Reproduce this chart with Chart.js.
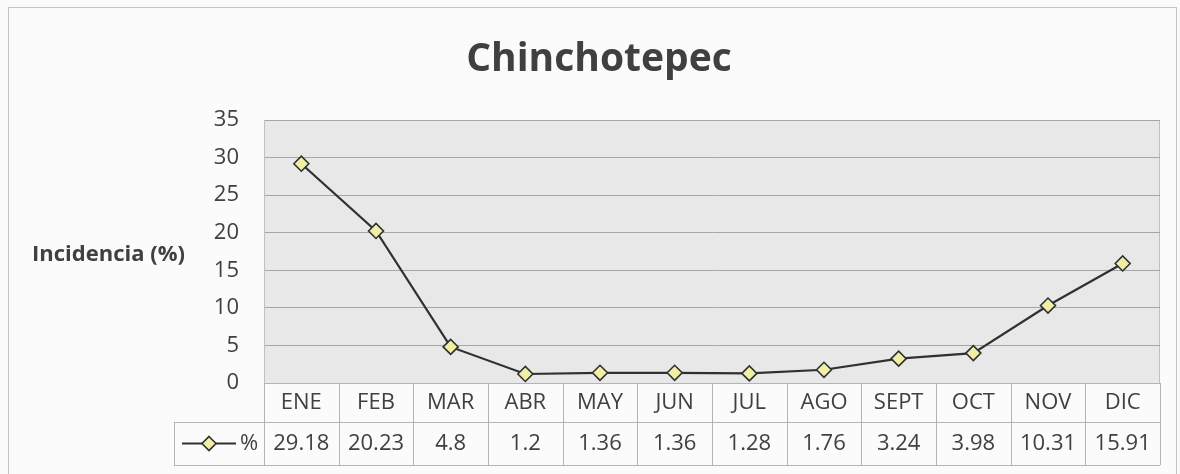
<!DOCTYPE html>
<html>
<head>
<meta charset="utf-8">
<title>Chinchotepec</title>
<script src="https://cdn.jsdelivr.net/npm/chart.js@4.4.1/dist/chart.umd.min.js"></script>
<style>
  html, body { margin: 0; padding: 0; background: #fbfbfb; }
  canvas { display: block; }
</style>
</head>
<body>
<canvas id="myChart" width="1180" height="474"></canvas>
<script>
const months = ["ENE", "FEB", "MAR", "ABR", "MAY", "JUN", "JUL", "AGO", "SEPT", "OCT", "NOV", "DIC"];
const incidencia = [29.18, 20.23, 4.8, 1.2, 1.36, 1.36, 1.28, 1.76, 3.24, 3.98, 10.31, 15.91];
const yTicks = [0, 5, 10, 15, 20, 25, 30, 35];
const seriesName = "%";
const chartTitle = "Chinchotepec";
const yTitle = "Incidencia (%)";

const FONT = "'Open Sans', Lato, sans-serif";
const TEXT = "#404040";
const TABLE_LINE = "#b4b4b4";
const MARKER_FILL = "#f1efa6";
const LINE_COLOR = "#303030";

// fondo, marco exterior y area del grafico
const backgroundPlugin = {
  id: "background",
  beforeDraw: (chart) => {
    const { ctx, chartArea } = chart;
    ctx.save();
    ctx.fillStyle = "#fbfbfb";
    ctx.fillRect(0, 0, chart.width, chart.height);
    ctx.strokeStyle = "#c4c4c4";
    ctx.lineWidth = 1;
    ctx.strokeRect(8.5, 7.5, chart.width - 12, chart.height - 4);
    ctx.fillStyle = "#e8e8e8";
    ctx.fillRect(chartArea.left, chartArea.top, chartArea.right - chartArea.left, chartArea.bottom - chartArea.top);
    ctx.strokeStyle = "#c0c0c0";
    ctx.strokeRect(chartArea.left + 0.5, chartArea.top + 0.5, chartArea.right - chartArea.left - 1, chartArea.bottom - chartArea.top);
    ctx.restore();
  },
};

const drawDiamond = (ctx, x, y, r) => {
  ctx.beginPath();
  ctx.moveTo(x, y - r);
  ctx.lineTo(x + r, y);
  ctx.lineTo(x, y + r);
  ctx.lineTo(x - r, y);
  ctx.closePath();
  ctx.fillStyle = MARKER_FILL;
  ctx.fill();
  ctx.lineWidth = 1.6;
  ctx.strokeStyle = LINE_COLOR;
  ctx.stroke();
};

// tabla de datos debajo del eje x + titulo del eje y
const dataTablePlugin = {
  id: "dataTable",
  afterDraw: (chart) => {
    const { ctx, chartArea, scales } = chart;
    const x = scales.x;
    const colW = x.getPixelForValue(1) - x.getPixelForValue(0);
    const left = chartArea.left;
    const right = chartArea.right;
    const row1Top = chartArea.bottom;
    const row1Bottom = 422;
    const row2Bottom = 465;
    const legendLeft = 174;

    ctx.save();
    ctx.strokeStyle = TABLE_LINE;
    ctx.lineWidth = 1;
    ctx.beginPath();
    ctx.moveTo(left, row1Top + 0.5);
    ctx.lineTo(right, row1Top + 0.5);
    ctx.moveTo(legendLeft, row1Bottom + 0.5);
    ctx.lineTo(right, row1Bottom + 0.5);
    ctx.moveTo(legendLeft, row2Bottom + 0.5);
    ctx.lineTo(right, row2Bottom + 0.5);
    ctx.moveTo(legendLeft + 0.5, row1Bottom);
    ctx.lineTo(legendLeft + 0.5, row2Bottom);
    for (let i = 0; i <= months.length; i++) {
      const px = Math.round(x.getPixelForValue(i) - colW / 2) + 0.5;
      ctx.moveTo(px, row1Top);
      ctx.lineTo(px, row2Bottom);
    }
    ctx.stroke();

    ctx.fillStyle = TEXT;
    ctx.font = `22px ${FONT}`;
    ctx.textAlign = "center";
    ctx.textBaseline = "middle";
    months.forEach((m, i) => {
      ctx.fillText(m, x.getPixelForValue(i), (row1Top + row1Bottom) / 2);
    });
    incidencia.forEach((v, i) => {
      ctx.fillText(String(v), x.getPixelForValue(i), (row1Bottom + row2Bottom) / 2);
    });

    // clave de la leyenda
    const ky = (row1Bottom + row2Bottom) / 2;
    ctx.beginPath();
    ctx.moveTo(182, ky);
    ctx.lineTo(236, ky);
    ctx.lineWidth = 2;
    ctx.strokeStyle = LINE_COLOR;
    ctx.stroke();
    drawDiamond(ctx, 209, ky, 7);
    ctx.fillStyle = TEXT;
    ctx.textAlign = "left";
    ctx.fillText(seriesName, 240, ky);

    // titulo del eje y (horizontal)
    ctx.font = `bold 22px ${FONT}`;
    ctx.textAlign = "left";
    ctx.fillText(yTitle, 32, 255);
    ctx.restore();
  },
};

const ctx = document.getElementById("myChart").getContext("2d");
new Chart(ctx, {
  type: "line",
  data: {
    labels: months,
    datasets: [
      {
        label: seriesName,
        data: incidencia,
        borderColor: LINE_COLOR,
        borderWidth: 2.2,
        pointStyle: "rectRot",
        pointRadius: 7.5,
        pointBorderWidth: 1.6,
        pointBackgroundColor: MARKER_FILL,
        pointBorderColor: LINE_COLOR,
        tension: 0,
      },
    ],
  },
  options: {
    responsive: false,
    animation: false,
    devicePixelRatio: 1,
    layout: { padding: { top: 0, left: 38, right: 20, bottom: 0 } },
    plugins: {
      legend: { display: false },
      tooltip: { enabled: false },
      title: {
        display: true,
        text: chartTitle,
        color: TEXT,
        font: { family: FONT, size: 39, weight: "bold", lineHeight: 1.2 },
        padding: { top: 36.6, bottom: 36.6 },
      },
    },
    scales: {
      x: {
        offset: true,
        grid: { display: false },
        border: { display: false },
        ticks: { display: false },
        afterFit: (scale) => {
          scale.height = 91;
        },
      },
      y: {
        min: yTicks[0],
        max: yTicks[yTicks.length - 1],
        afterBuildTicks: (scale) => {
          scale.ticks = yTicks.map((v) => ({ value: v }));
        },
        grid: { color: "#a6a6a6", lineWidth: 1, drawTicks: false },
        border: { display: true, color: "#c0c0c0" },
        ticks: {
          color: TEXT,
          padding: 25,
          font: { family: FONT, size: 22 },
        },
        afterFit: (scale) => {
          scale.width = 226;
        },
      },
    },
  },
  plugins: [backgroundPlugin, dataTablePlugin],
});
</script>
</body>
</html>
